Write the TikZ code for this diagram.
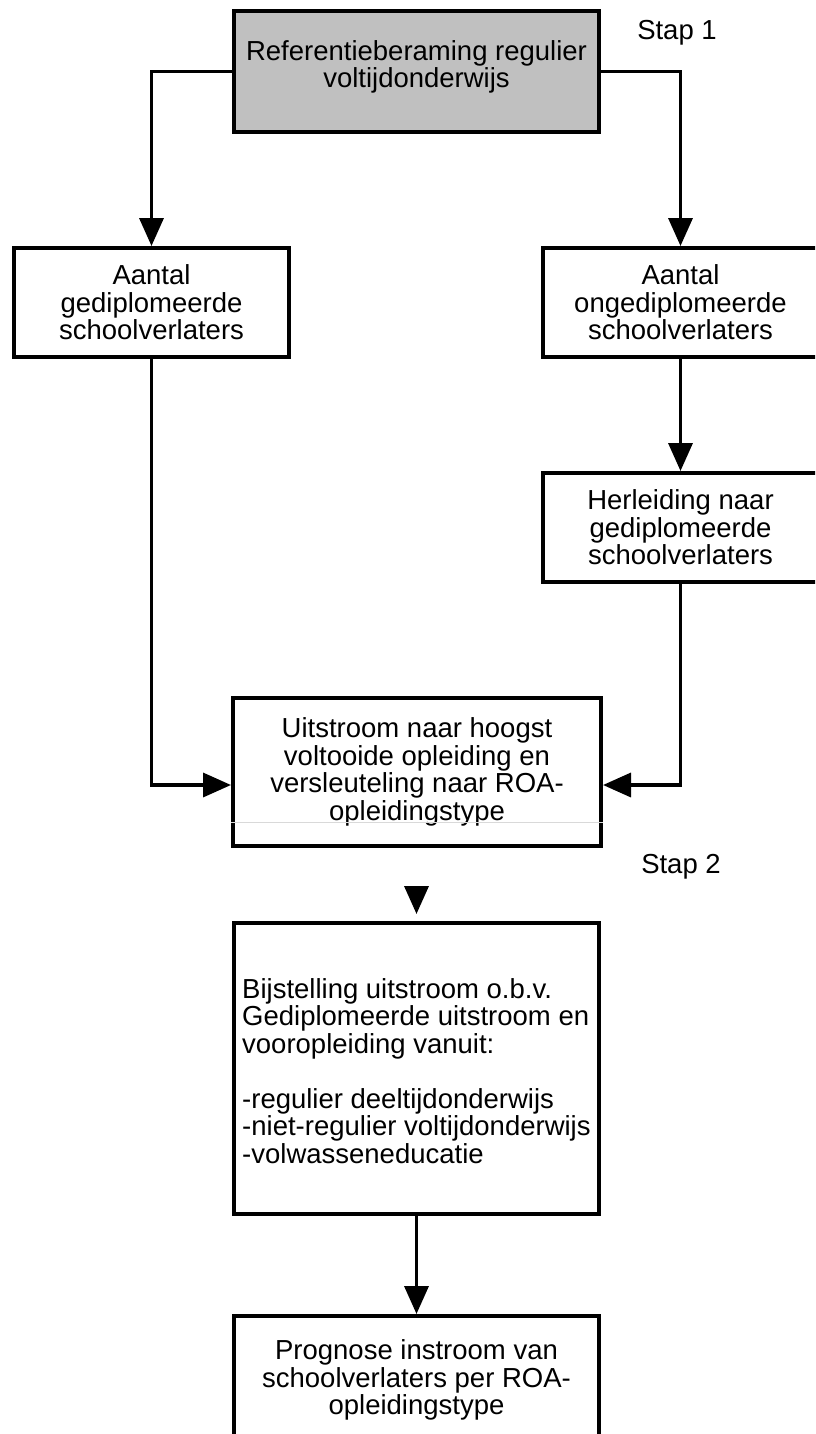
\documentclass[tikz,border=0pt]{standalone}
\usepackage{fontspec}
\setmainfont{Liberation Sans}
\usetikzlibrary{arrows.meta}
\definecolor{boxgray}{RGB}{192,192,192}
\newcommand{\diagfont}{\fontsize{27.5}{27.5}\selectfont}
\begin{document}
\begin{tikzpicture}[x=1pt,y=-1pt,
  box/.style={draw, line width=4pt, inner sep=0pt, align=center, font=\diagfont},
  txt/.style={inner sep=0pt, align=center, font=\diagfont},
  arr/.style={line width=3.5pt, -{Triangle[width=24pt,length=28pt]}},
  faint/.style={draw=black!15, line width=1pt}]
\useasboundingbox (0,0) rectangle (815,1434);
\clip (0,0) rectangle (815,1434);

% boxes
\node[box, fill=boxgray, minimum width=365pt, minimum height=121pt] (top) at (416.5,71.5) {};
\node[txt] (toptxt) at (416.5,67) {Referentieberaming regulier\\voltijdonderwijs};

\node[box, minimum width=275pt, minimum height=109pt] (left) at (151.5,302.5)
  {Aantal\\gediplomeerde\\schoolverlaters};
\node[box, minimum width=275pt, minimum height=109pt] (right) at (680.5,302.5)
  {Aantal\\ongediplomeerde\\schoolverlaters};
\node[box, minimum width=275pt, minimum height=109pt] (herl) at (680.5,527.5)
  {Herleiding naar\\gediplomeerde\\schoolverlaters};
\node[box, minimum width=368pt, minimum height=148pt] (uit) at (417,772)
  {Uitstroom naar hoogst\\voltooide opleiding en\\versleuteling naar ROA-\\opleidingstype};
\node[box, minimum width=365pt, minimum height=291pt] (bij) at (416.5,1068.5) {};
\node[txt, align=left, anchor=west] (bijtxt) at (242,1071)
  {Bijstelling uitstroom o.b.v.\\Gediplomeerde uitstroom en\\vooropleiding vanuit:\\[27.5pt]-regulier deeltijdonderwijs\\-niet-regulier voltijdonderwijs\\-volwasseneducatie};
\node[box, minimum width=365pt, minimum height=160pt] (prog) at (416.5,1396) {};
\node[txt] (progtxt) at (416.5,1380)
  {Prognose instroom van\\schoolverlaters per ROA-\\opleidingstype};

% step labels
\node[txt] (stap1) at (677,33) {Stap 1};
\node[txt] (stap2) at (681,867) {Stap 2};

% faint line inside the Uitstroom box
\draw[faint] ([yshift=-50pt]uit.west) -- ([yshift=-50pt]uit.east);

% connectors
\draw[arr] (top.west) -| (left.north);
\draw[arr] (top.east) -| (right.north);
\draw[arr] (right.south) -- (herl.north);
\draw[arr] (left.south) |- ([yshift=-13pt]uit.west);
\draw[arr] (herl.south) |- ([yshift=-13pt]uit.east);
\coordinate (ahstart) at (416.5,887);
\draw[arr] (ahstart) -- ([yshift=7pt]bij.north);
\draw[arr] (bij.south) -- (prog.north);
\end{tikzpicture}
\end{document}
